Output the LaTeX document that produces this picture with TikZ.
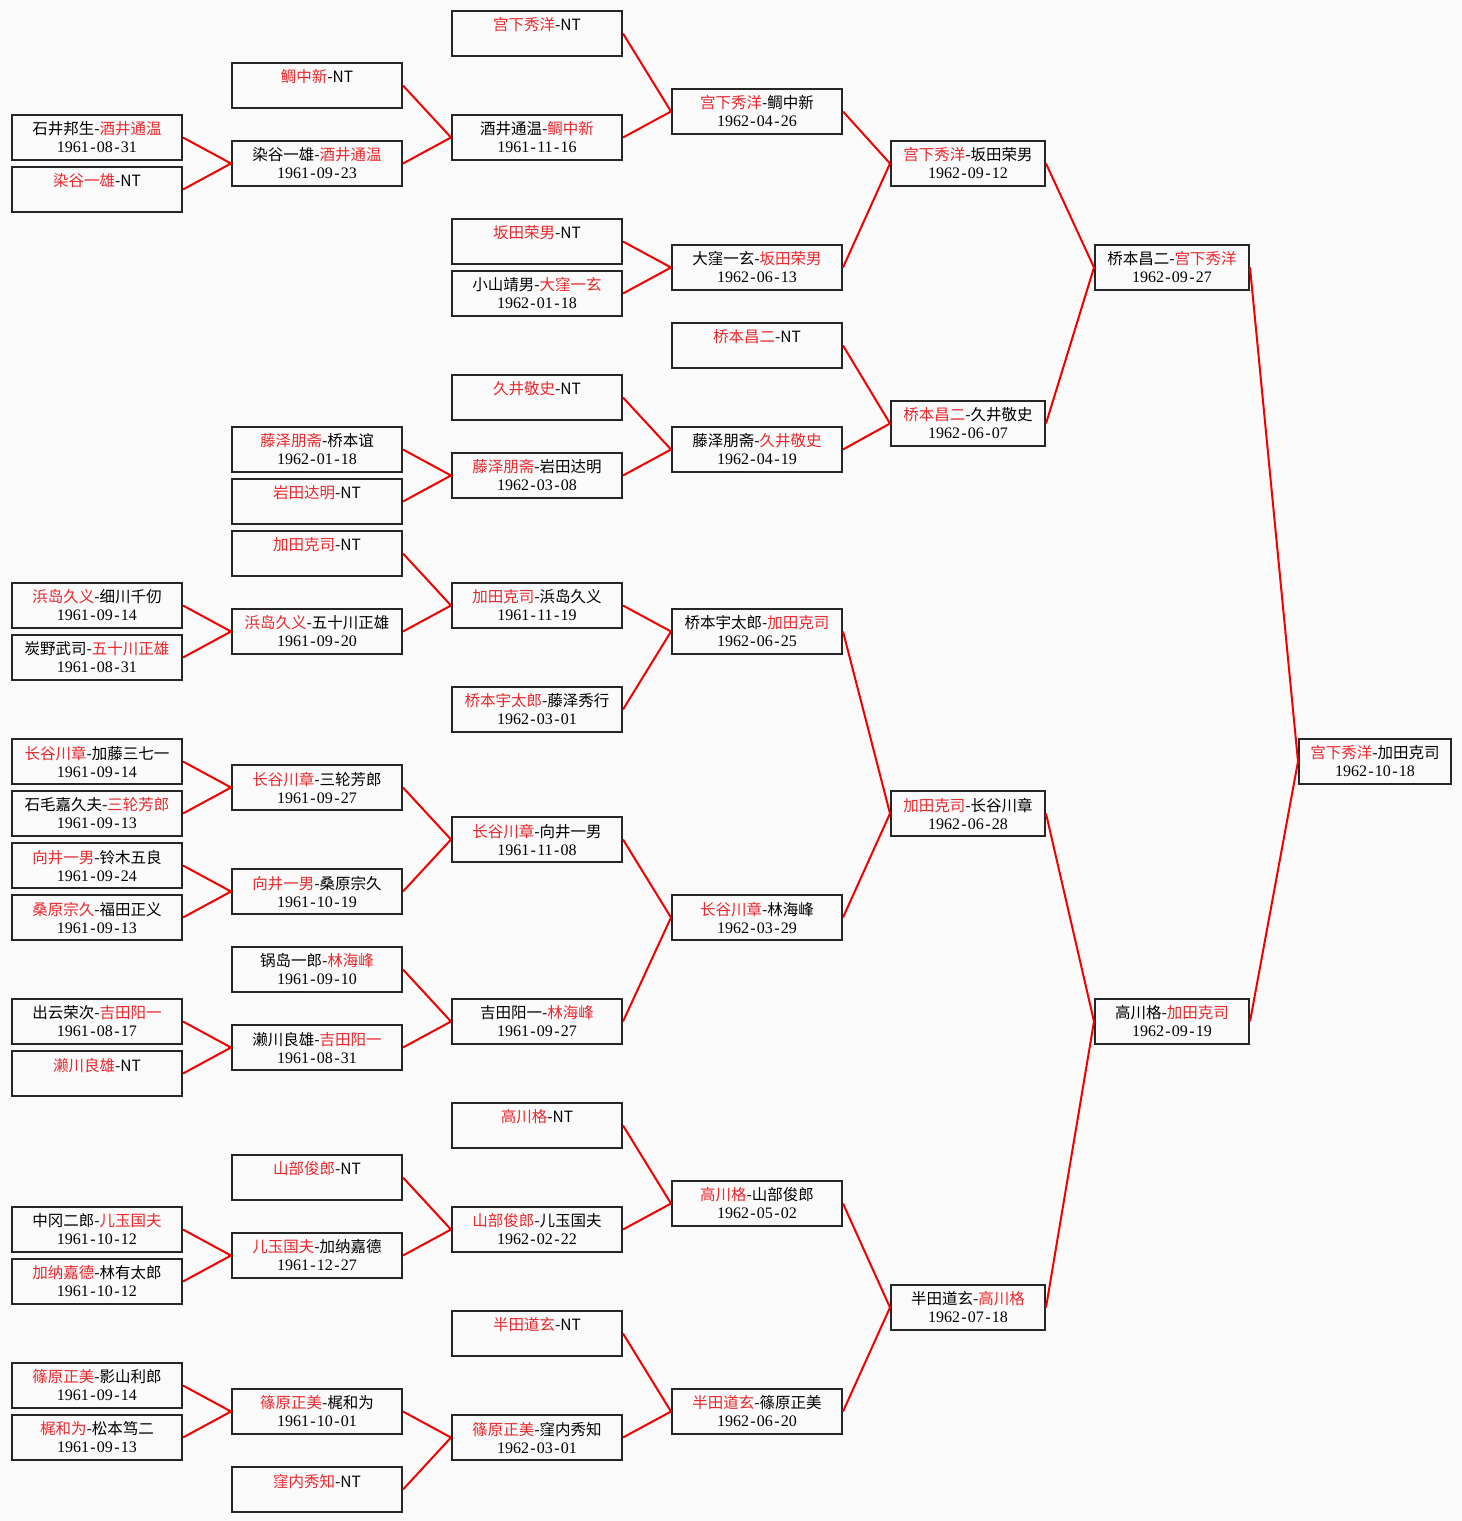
\documentclass[tikz,border=0pt]{standalone}
\usepackage{fontspec}
\newfontfamily\cjk{Noto Sans CJK SC}
\newfontfamily\digits{Liberation Serif}
\definecolor{tred}{RGB}{232,40,45}
\definecolor{lred}{RGB}{240,0,0}
\definecolor{bgc}{RGB}{250,250,250}
\newcommand\R[1]{\textcolor{tred}{#1}}
\def\dtparse#1-#2-#3\relax{#1\makebox[8pt]{-}#2\makebox[8pt]{-}#3}
\newcommand\dt[1]{{\digits\fontsize{16}{17}\selectfont \dtparse#1\relax}}
\newcommand\nodate{{\digits\fontsize{16}{17}\selectfont\phantom{1961}}}
\tikzset{
  bx/.style={draw=black!85, line width=2pt, minimum height=45pt, minimum width=170pt,
    inner sep=0pt, align=center, font=\cjk\fontsize{15.5}{18}\selectfont},
  narrowbx/.style={bx, minimum width=154pt},
  ln/.style={draw=lred, line width=2pt}
}
\begin{document}
\begin{tikzpicture}[x=1pt,y=-1pt]
\fill[bgc] (0,0) rectangle (1462,1521);
\useasboundingbox (0,0) rectangle (1462,1521);

% column 0
\node[bx] (c0k20)  at (97,137.5)  {石井邦生-\R{酒井通温}\\\dt{1961-08-31}};
\node[bx] (c0k30)  at (97,189.5)  {\R{染谷一雄}-NT\\\nodate};
\node[bx] (c0k110) at (97,605.5)  {\R{浜岛久义}-细川千仞\\\dt{1961-09-14}};
\node[bx] (c0k120) at (97,657.5)  {炭野武司-\R{五十川正雄}\\\dt{1961-08-31}};
\node[bx] (c0k140) at (97,761.5)  {\R{长谷川章}-加藤三七一\\\dt{1961-09-14}};
\node[bx] (c0k150) at (97,813.5)  {石毛嘉久夫-\R{三轮芳郎}\\\dt{1961-09-13}};
\node[bx] (c0k160) at (97,865.5)  {\R{向井一男}-铃木五良\\\dt{1961-09-24}};
\node[bx] (c0k170) at (97,917.5)  {\R{桑原宗久}-福田正义\\\dt{1961-09-13}};
\node[bx] (c0k190) at (97,1021.5) {出云荣次-\R{吉田阳一}\\\dt{1961-08-17}};
\node[bx] (c0k200) at (97,1073.5) {\R{濑川良雄}-NT\\\nodate};
\node[bx] (c0k230) at (97,1229.5) {中冈二郎-\R{儿玉国夫}\\\dt{1961-10-12}};
\node[bx] (c0k240) at (97,1281.5) {\R{加纳嘉德}-林有太郎\\\dt{1961-10-12}};
\node[bx] (c0k260) at (97,1385.5) {\R{篠原正美}-影山利郎\\\dt{1961-09-14}};
\node[bx] (c0k270) at (97,1437.5) {\R{梶和为}-松本笃二\\\dt{1961-09-13}};

% column 1
\node[bx] (c1k10)  at (317,85.5)   {\R{鲷中新}-NT\\\nodate};
\node[bx] (c1k25)  at (317,163.5)  {染谷一雄-\R{酒井通温}\\\dt{1961-09-23}};
\node[bx] (c1k80)  at (317,449.5)  {\R{藤泽朋斋}-桥本谊\\\dt{1962-01-18}};
\node[bx] (c1k90)  at (317,501.5)  {\R{岩田达明}-NT\\\nodate};
\node[bx] (c1k100) at (317,553.5)  {\R{加田克司}-NT\\\nodate};
\node[bx] (c1k115) at (317,631.5)  {\R{浜岛久义}-五十川正雄\\\dt{1961-09-20}};
\node[bx] (c1k145) at (317,787.5)  {\R{长谷川章}-三轮芳郎\\\dt{1961-09-27}};
\node[bx] (c1k165) at (317,891.5)  {\R{向井一男}-桑原宗久\\\dt{1961-10-19}};
\node[bx] (c1k180) at (317,969.5)  {锅岛一郎-\R{林海峰}\\\dt{1961-09-10}};
\node[bx] (c1k195) at (317,1047.5) {濑川良雄-\R{吉田阳一}\\\dt{1961-08-31}};
\node[bx] (c1k220) at (317,1177.5) {\R{山部俊郎}-NT\\\nodate};
\node[bx] (c1k235) at (317,1255.5) {\R{儿玉国夫}-加纳嘉德\\\dt{1961-12-27}};
\node[bx] (c1k265) at (317,1411.5) {\R{篠原正美}-梶和为\\\dt{1961-10-01}};
\node[bx] (c1k280) at (317,1489.5) {\R{窪内秀知}-NT\\\nodate};

% column 2
\node[bx] (c2k0)   at (537,33.5)   {\R{宫下秀洋}-NT\\\nodate};
\node[bx] (c2k20)  at (537,137.5)  {酒井通温-\R{鲷中新}\\\dt{1961-11-16}};
\node[bx] (c2k40)  at (537,241.5)  {\R{坂田荣男}-NT\\\nodate};
\node[bx] (c2k50)  at (537,293.5)  {小山靖男-\R{大窪一玄}\\\dt{1962-01-18}};
\node[bx] (c2k70)  at (537,397.5)  {\R{久井敬史}-NT\\\nodate};
\node[bx] (c2k85)  at (537,475.5)  {\R{藤泽朋斋}-岩田达明\\\dt{1962-03-08}};
\node[bx] (c2k110) at (537,605.5)  {\R{加田克司}-浜岛久义\\\dt{1961-11-19}};
\node[bx] (c2k130) at (537,709.5)  {\R{桥本宇太郎}-藤泽秀行\\\dt{1962-03-01}};
\node[bx] (c2k155) at (537,839.5)  {\R{长谷川章}-向井一男\\\dt{1961-11-08}};
\node[bx] (c2k190) at (537,1021.5) {吉田阳一-\R{林海峰}\\\dt{1961-09-27}};
\node[bx] (c2k210) at (537,1125.5) {\R{高川格}-NT\\\nodate};
\node[bx] (c2k230) at (537,1229.5) {\R{山部俊郎}-儿玉国夫\\\dt{1962-02-22}};
\node[bx] (c2k250) at (537,1333.5) {\R{半田道玄}-NT\\\nodate};
\node[bx] (c2k270) at (537,1437.5) {\R{篠原正美}-窪内秀知\\\dt{1962-03-01}};

% column 3
\node[bx] (c3k15)  at (757,111.5)  {\R{宫下秀洋}-鲷中新\\\dt{1962-04-26}};
\node[bx] (c3k45)  at (757,267.5)  {大窪一玄-\R{坂田荣男}\\\dt{1962-06-13}};
\node[bx] (c3k60)  at (757,345.5)  {\R{桥本昌二}-NT\\\nodate};
\node[bx] (c3k80)  at (757,449.5)  {藤泽朋斋-\R{久井敬史}\\\dt{1962-04-19}};
\node[bx] (c3k115) at (757,631.5)  {桥本宇太郎-\R{加田克司}\\\dt{1962-06-25}};
\node[bx] (c3k170) at (757,917.5)  {\R{长谷川章}-林海峰\\\dt{1962-03-29}};
\node[bx] (c3k225) at (757,1203.5) {\R{高川格}-山部俊郎\\\dt{1962-05-02}};
\node[bx] (c3k265) at (757,1411.5) {\R{半田道玄}-篠原正美\\\dt{1962-06-20}};

% column 4
\node[narrowbx] (c4k25)  at (968,163.5)  {\R{宫下秀洋}-坂田荣男\\\dt{1962-09-12}};
\node[narrowbx] (c4k75)  at (968,423.5)  {\R{桥本昌二}-久井敬史\\\dt{1962-06-07}};
\node[narrowbx] (c4k150) at (968,813.5)  {\R{加田克司}-长谷川章\\\dt{1962-06-28}};
\node[narrowbx] (c4k245) at (968,1307.5) {半田道玄-\R{高川格}\\\dt{1962-07-18}};

% column 5
\node[narrowbx] (c5k45)  at (1172,267.5)  {桥本昌二-\R{宫下秀洋}\\\dt{1962-09-27}};
\node[narrowbx] (c5k190) at (1172,1021.5) {高川格-\R{加田克司}\\\dt{1962-09-19}};

% column 6
\node[bx, minimum width=152pt] (c6k140) at (1375,761.5) {\R{宫下秀洋}-加田克司\\\dt{1962-10-18}};

% connectors
\foreach \a/\b/\p in {
  c0k20/c0k30/c1k25, c1k10/c1k25/c2k20, c2k0/c2k20/c3k15, c2k40/c2k50/c3k45,
  c3k15/c3k45/c4k25, c1k80/c1k90/c2k85, c2k70/c2k85/c3k80, c3k60/c3k80/c4k75,
  c4k25/c4k75/c5k45, c0k110/c0k120/c1k115, c1k100/c1k115/c2k110, c2k110/c2k130/c3k115,
  c0k140/c0k150/c1k145, c0k160/c0k170/c1k165, c1k145/c1k165/c2k155, c0k190/c0k200/c1k195,
  c1k180/c1k195/c2k190, c2k155/c2k190/c3k170, c3k115/c3k170/c4k150, c0k230/c0k240/c1k235,
  c1k220/c1k235/c2k230, c2k210/c2k230/c3k225, c0k260/c0k270/c1k265, c1k265/c1k280/c2k270,
  c2k250/c2k270/c3k265, c3k225/c3k265/c4k245, c4k150/c4k245/c5k190, c5k45/c5k190/c6k140}{
  \draw[ln] (\a.east) -- (\p.west) -- (\b.east);
}
\end{tikzpicture}
\end{document}
